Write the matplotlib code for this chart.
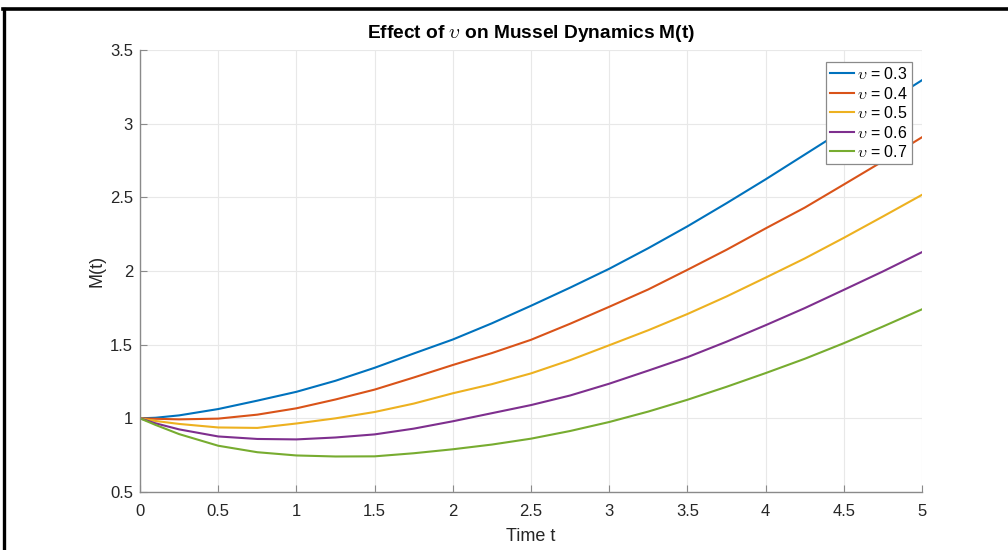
import matplotlib
matplotlib.use("Agg")
import matplotlib.pyplot as plt
from matplotlib.lines import Line2D

plt.rcParams['font.family'] = ['Liberation Sans', 'DejaVu Sans']
plt.rcParams['mathtext.fontset'] = 'cm'

t = [0, 0.1, 0.25, 0.5, 0.75, 1.0, 1.25, 1.5, 1.75, 2.0, 2.25, 2.5, 2.75,
     3.0, 3.25, 3.5, 3.75, 4.0, 4.25, 4.5, 4.75, 5.0]
m_v03 = [1.0, 1.004, 1.02, 1.063, 1.12, 1.18, 1.255, 1.343, 1.44, 1.535, 1.645, 1.764, 1.887,
         2.015, 2.155, 2.303, 2.46, 2.622, 2.79, 2.958, 3.127, 3.295]
m_v04 = [1.0, 0.997, 0.993, 0.998, 1.025, 1.068, 1.128, 1.195, 1.277, 1.362, 1.443, 1.533, 1.642,
         1.757, 1.875, 2.008, 2.144, 2.289, 2.43, 2.587, 2.745, 2.908]
m_v05 = [1.0, 0.982, 0.962, 0.938, 0.935, 0.965, 1.0, 1.043, 1.10, 1.17, 1.232, 1.305, 1.395,
         1.496, 1.598, 1.708, 1.827, 1.955, 2.085, 2.225, 2.37, 2.517]
m_v06 = [1.0, 0.966, 0.925, 0.877, 0.86, 0.857, 0.87, 0.891, 0.93, 0.98, 1.035, 1.09, 1.155,
         1.235, 1.324, 1.415, 1.52, 1.632, 1.748, 1.872, 1.997, 2.128]
m_v07 = [1.0, 0.955, 0.893, 0.814, 0.77, 0.748, 0.741, 0.742, 0.763, 0.79, 0.822, 0.862, 0.914,
         0.975, 1.046, 1.126, 1.214, 1.307, 1.404, 1.51, 1.623, 1.74]
series = [m_v03, m_v04, m_v05, m_v06, m_v07]
labels = [r'$\upsilon$ = 0.3', r'$\upsilon$ = 0.4', r'$\upsilon$ = 0.5', r'$\upsilon$ = 0.6', r'$\upsilon$ = 0.7']
colors = ['#0072BD', '#D95319', '#EDB120', '#7E2F8E', '#77AC30']

xticks = [0, 0.5, 1, 1.5, 2, 2.5, 3, 3.5, 4, 4.5, 5]
xticklabels = ['0', '0.5', '1', '1.5', '2', '2.5', '3', '3.5', '4', '4.5', '5']
yticks = [0.5, 1, 1.5, 2, 2.5, 3, 3.5]
yticklabels = ['0.5', '1', '1.5', '2', '2.5', '3', '3.5']

fig = plt.figure(figsize=(10.08, 5.5), dpi=100)
ax = fig.add_axes([140/1008, 1-492/550, (922-140)/1008, (492-50)/550])

for y, lab, c in zip(series, labels, colors):
    ax.plot(t, y, color=c, lw=1.5, label=lab)

ax.set_xlim(0, 5)
ax.set_ylim(0.5, 3.5)
ax.set_xticks(xticks)
ax.set_xticklabels(xticklabels)
ax.set_yticks(yticks)
ax.set_yticklabels(yticklabels)
ax.grid(True, color='#e8e8e8', lw=0.8)
ax.set_axisbelow(True)
for s in ['top', 'right']:
    ax.spines[s].set_visible(False)
for s in ['left', 'bottom']:
    ax.spines[s].set_color('#8a8a8a')
    ax.spines[s].set_linewidth(1.0)
ax.tick_params(direction='in', length=5, width=0.8, color='#8a8a8a',
               labelsize=12, labelcolor='#262626')
ax.tick_params(axis='x', pad=9)
ax.tick_params(axis='y', pad=5)

ax.set_title(r'Effect of $\upsilon$ on Mussel Dynamics M(t)', fontsize=13.8,
             fontweight='bold', color='#000000', pad=9)
ax.set_xlabel('Time t', fontsize=13, color='#262626', labelpad=6)
ax.set_ylabel('M(t)', fontsize=13, color='#262626', labelpad=3)

leg = ax.legend(loc='upper right', fontsize=11.5, frameon=True, fancybox=False,
                edgecolor='#8a8a8a', framealpha=1, borderpad=0.25,
                labelspacing=0.22, handlelength=1.5, handletextpad=0.2,
                borderaxespad=0.0, bbox_to_anchor=(912/1008, 1-62/550),
                bbox_transform=fig.transFigure)
leg.get_frame().set_linewidth(0.9)

# screenshot frame lines (top and left)
fig.add_artist(Line2D([3/1008, 1], [1-8.5/550, 1-8.5/550], color='black', lw=2.6,
                      transform=fig.transFigure))
fig.add_artist(Line2D([4/1008, 4/1008], [0, 1-8.5/550], color='black', lw=2.4,
                      transform=fig.transFigure))

fig.savefig('out.png', dpi=100)
